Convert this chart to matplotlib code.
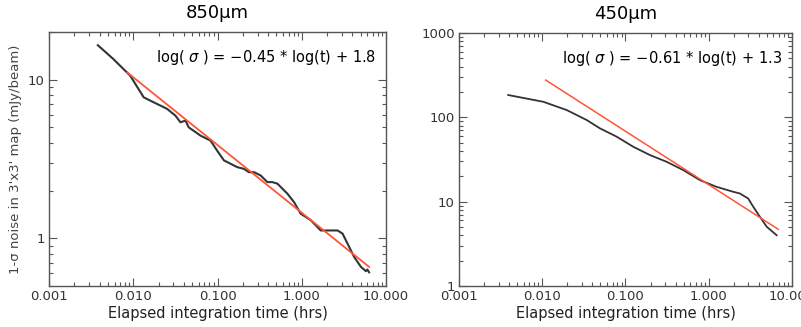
import matplotlib.pyplot as plt
from matplotlib.ticker import LogLocator, NullFormatter, FixedLocator, FixedFormatter

# 850um curve (hrs, mJy/beam)
t850 = [0.0038, 0.0058, 0.0092, 0.0133, 0.0175, 0.0252, 0.0316, 0.0363, 0.0417,
        0.0455, 0.0628, 0.0826, 0.099, 0.119, 0.143, 0.171, 0.206, 0.236, 0.271,
        0.325, 0.391, 0.448, 0.514, 0.676, 0.81, 0.97, 1.28, 1.68, 2.21, 2.66,
        3.05, 3.66, 4.2, 5.04, 5.78, 6.0, 6.3]
s850 = [16.5, 13.5, 10.6, 7.74, 7.2, 6.55, 5.94, 5.39, 5.52, 5.01, 4.44, 4.13,
        3.57, 3.1, 2.95, 2.81, 2.74, 2.61, 2.61, 2.49, 2.26, 2.26, 2.21, 1.91,
        1.69, 1.43, 1.3, 1.12, 1.12, 1.12, 1.07, 0.88, 0.76, 0.66, 0.62, 0.635, 0.61]
fit850_t = [0.0085, 6.3]
fit850_s = [11.1, 0.66]

# 450um curve
t450 = [0.0039, 0.0103, 0.0197, 0.0342, 0.0494, 0.0784, 0.124, 0.197, 0.313,
        0.494, 0.785, 1.24, 1.97, 2.37, 2.98, 3.43, 4.13, 4.97, 6.55]
s450 = [184, 153, 122, 93, 74, 59, 44.8, 35.7, 29.7, 23.7, 18, 15, 13.1, 12.5,
        10.9, 8.7, 6.6, 5.05, 4.0]
fit450_t = [0.011, 6.86]
fit450_s = [277, 4.7]

xticks = [0.001, 0.01, 0.1, 1, 10]
xticklabels = ["0.001", "0.010", "0.100", "1.000", "10.000"]

frame_col = '#555555'
text_col = '#333333'
red = '#ff5533'

fig = plt.figure(figsize=(8.01, 3.27), dpi=100)
ax1 = fig.add_axes([0.0612, 0.1254, 0.4207, 0.7768])
ax2 = fig.add_axes([0.573, 0.1254, 0.4157, 0.7736])


def style(ax, ylim, yticks, ylabels):
    ax.set_xscale('log')
    ax.set_yscale('log')
    ax.set_xlim(0.001, 10)
    ax.set_ylim(*ylim)
    ax.xaxis.set_major_locator(FixedLocator(xticks))
    ax.xaxis.set_major_formatter(FixedFormatter(xticklabels))
    ax.xaxis.set_minor_locator(LogLocator(base=10, subs=range(2, 10)))
    ax.xaxis.set_minor_formatter(NullFormatter())
    ax.yaxis.set_major_locator(FixedLocator(yticks))
    ax.yaxis.set_major_formatter(FixedFormatter(ylabels))
    ax.yaxis.set_minor_locator(LogLocator(base=10, subs=range(2, 10)))
    ax.yaxis.set_minor_formatter(NullFormatter())
    ax.tick_params(which='both', direction='in', top=True, right=True,
                   color=frame_col, width=0.8, labelcolor=text_col, labelsize=9.5)
    ax.tick_params(which='major', length=6)
    ax.tick_params(which='minor', length=3)
    ax.tick_params(axis='x', pad=3)
    ax.tick_params(axis='y', pad=3)
    for sp in ax.spines.values():
        sp.set_color(frame_col)
        sp.set_linewidth(1.0)
    ax.set_xlabel("Elapsed integration time (hrs)", fontsize=10.5, color='#222222', labelpad=2)


# Left panel: 850um
ax1.plot(t850, s850, color='#333333', linewidth=1.5)
ax1.plot(fit850_t, fit850_s, color=red, linewidth=1.3)
style(ax1, (0.5, 20), [1, 10], ["1", "10"])
ax1.set_ylabel("1-σ noise in 3'x3' map (mJy/beam)", fontsize=9.5, color='#444444', labelpad=4)
ax1.set_title("850µm", fontsize=13, pad=10)
ax1.text(0.97, 0.9, r"log( $\sigma$ ) = −0.45 * log(t) + 1.8", transform=ax1.transAxes,
         ha='right', va='center', fontsize=10.5)

# Right panel: 450um
ax2.plot(t450, s450, color='#333333', linewidth=1.3)
ax2.plot(fit450_t, fit450_s, color=red, linewidth=1.1)
style(ax2, (1, 1000), [1, 10, 100, 1000], ["1", "10", "100", "1000"])
ax2.set_title("450µm", fontsize=13, pad=10)
ax2.text(0.97, 0.9, r"log( $\sigma$ ) = −0.61 * log(t) + 1.3", transform=ax2.transAxes,
         ha='right', va='center', fontsize=10.5)

plt.savefig("out.png", dpi=100)
